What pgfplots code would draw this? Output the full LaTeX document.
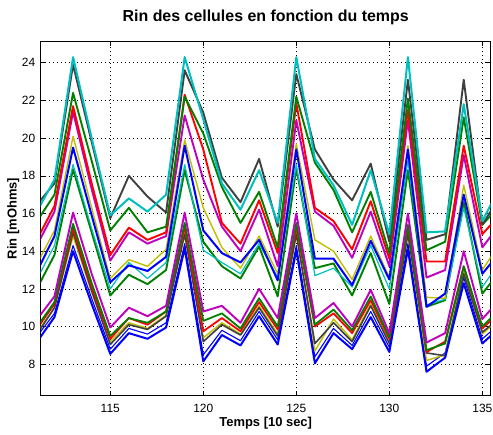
\documentclass[border=0pt]{standalone}
\usepackage{fontspec}
\setmainfont{Liberation Sans}
\usepackage{pgfplots}
\usepackage{pgfplotstable}
\pgfplotsset{compat=1.18}

\definecolor{mblue}{rgb}{0,0,1}
\definecolor{mgreen}{rgb}{0,0.5,0}
\definecolor{mred}{rgb}{1,0,0}
\definecolor{mcyan}{rgb}{0,0.75,0.75}
\definecolor{mmag}{rgb}{0.75,0,0.75}
\definecolor{myel}{rgb}{0.75,0.75,0}
\definecolor{mgray}{rgb}{0.25,0.25,0.25}

% Internal resistance of each cell (mOhm) versus time step (10 s)
% u* : upper group of cells, l* : lower group of cells
\pgfplotstableread{
t    u1    u2    u3    u4    u5    u6    u7    u8    u9    l1    l2    l3    l4    l5    l6    l7
111  16.0  16.4  15.5  14.5  14.2  13.2  12.8  12.4  11.9  10.3  9.9   9.8   9.5   9.6   9.1   9.4
112  17.8  17.6  17.0  16.4  16.1  15.1  14.8  14.3  13.8  11.6  11.3  11.2  11.0  11.0  10.5  10.7
113  24.3  23.9  22.4  21.7  21.4  20.1  19.5  18.6  18.35 16.05 15.45 15.2  15.0  14.8  14.0  14.3
114  20.0  19.8  18.8  17.6  17.3  16.3  15.9  15.2  15.0  12.8  12.3  12.1  11.9  11.8  11.2  11.5
115  15.9  15.75 15.1  13.8  13.5  12.55 12.35 12.0  11.65 9.95  9.5   9.35  9.05  9.2   8.55  8.8
116  16.8  18.0  16.3  15.25 15.0  13.55 13.25 13.4  12.75 11.0  10.45 10.45 10.1  10.2  9.65  9.9
117  16.1  16.9  15.0  14.6  14.4  13.2  12.95 12.55 12.25 10.55 10.2  10.1  9.85  9.9   9.35  9.6
118  17.0  16.05 15.3  15.0  14.8  14.1  13.7  13.4  13.0  11.1  10.8  10.8  10.55 10.6  9.95  10.2
119  24.3  23.6  22.2  22.3  21.2  19.9  19.6  18.6  18.3  16.05 15.5  15.3  14.9  15.0  14.15 14.4
120  21.0  21.35 20.25 19.4  17.8  16.3  15.1  14.05 14.5  10.8  10.3  9.75  9.2   9.4   8.15  8.5
121  17.6  17.9  17.4  15.5  15.3  14.2  13.9  13.4  13.2  11.1  10.7  10.45 10.1  10.2  9.55  9.8
122  16.2  16.6  15.5  14.4  14.0  13.1  13.4  12.8  12.55 10.2  9.9   9.75  9.55  9.6   9.0   9.25
123  18.3  18.9  17.15 16.7  16.2  14.8  14.6  14.4  14.25 12.0  11.5  11.3  11.0  11.1  10.55 10.8
124  15.5  15.3  14.2  13.9  13.2  12.8  12.45 12.6  11.6  10.45 10.0  9.85  9.5   9.6   9.05  9.3
125  24.3  23.4  22.2  21.85 20.95 19.7  19.4  18.6  18.4  16.0  15.5  15.3  14.9  15.0  14.05 14.3
126  18.9  19.4  18.7  16.3  16.1  14.6  13.6  12.7  13.1  10.45 10.1  10.0  9.1   8.7   8.05  8.4
127  17.5  17.8  17.25 15.6  15.35 14.0  13.6  13.1  13.35 11.25 10.9  10.7  10.2  10.4  9.65  9.9
128  15.4  16.7  15.0  14.1  13.65 12.5  12.2  12.1  11.65 10.0  9.8   9.65  9.2   9.3   8.8   9.0
129  18.3  18.65 17.15 16.65 16.1  14.8  14.55 14.3  13.9  11.95 11.6  11.4  11.1  11.2  10.5  10.8
130  14.9  14.5  13.9  13.6  13.2  12.6  12.5  12.0  11.2  9.65  9.45  9.35  9.1   9.2   8.65  8.9
131  24.3  23.1  22.1  21.5  20.95 19.6  19.4  18.8  18.3  16.0  15.4  15.3  14.9  15.0  14.1  14.4
132  15.0  14.6  14.05 13.45 12.6  11.55 11.05 11.15 11.05 9.15  8.75  8.65  8.6   8.2   7.6   7.9
133  15.05 14.9  14.5  13.45 13.0  11.5  11.75 11.45 11.4  9.65  9.1   9.2   8.45  8.5   8.35  8.6
134  21.8  23.1  21.1  19.6  19.1  17.5  17.0  16.3  16.6  14.0  13.2  13.2  12.8  12.9  12.3  12.6
135  15.6  15.4  15.4  14.9  14.2  13.0  12.8  12.1  11.75 10.4  10.0  9.9   9.7   9.6   9.1   9.35
136  17.5  17.0  16.5  16.0  15.5  14.5  14.0  13.5  13.0  11.5  11.0  10.8  10.5  10.5  10.0  10.2
}\rin

\begin{document}
\begin{tikzpicture}
\begin{axis}[
  scale only axis,
  width=450bp, height=354.4bp,
  xmin=111.26, xmax=135.45,
  ymin=6.33, ymax=25.14,
  xtick={115,120,125,130,135},
  ytick={8,10,...,24},
  /pgf/number format/assume math mode=true,
  tick label style={font=\fontsize{12}{14}\selectfont},
  xticklabel style={anchor=base, yshift=-16.3bp},
  yticklabel style={anchor=east, xshift=-2bp},
  major tick length=5bp,
  tick style={black, line width=0.6bp},
  axis line style={black, line width=1bp},
  grid=major,
  major grid style={black, line width=0.6bp, dash pattern=on 1bp off 3bp},
  title={Rin des cellules en fonction du temps},
  title style={font=\bfseries\fontsize{16}{19}\selectfont,
    at={(axis description cs:0.5,1.039)}, anchor=base},
  xlabel={Temps [10 sec]},
  xlabel style={font=\bfseries\fontsize{13}{15}\selectfont,
    at={(axis description cs:0.5,-0.0855)}, anchor=base},
  ylabel={Rin [mOhms]},
  ylabel style={font=\bfseries\fontsize{13}{15}\selectfont,
    at={(axis description cs:-0.0533,0.5)}, anchor=base},
  every axis plot/.append style={line join=round, no markers},
]
% lower group
\addplot[mblue, line width=1.1bp] table[x=t, y=l7] {\rin};
\addplot[myel, line width=1.4bp] table[x=t, y=l5] {\rin};
\addplot[mgray, line width=1.6bp] table[x=t, y=l4] {\rin};
\addplot[mred, line width=1.8bp] table[x=t, y=l3] {\rin};
\addplot[mgreen, line width=1.8bp] table[x=t, y=l2] {\rin};
\addplot[mmag, line width=1.9bp] table[x=t, y=l1] {\rin};
\addplot[mblue, line width=2bp] table[x=t, y=l6] {\rin};
% upper group
\addplot[mgreen, line width=1.9bp] table[x=t, y=u9] {\rin};
\addplot[mcyan, line width=1.2bp] table[x=t, y=u8] {\rin};
\addplot[myel, line width=1.4bp] table[x=t, y=u6] {\rin};
\addplot[mblue, line width=2bp] table[x=t, y=u7] {\rin};
\addplot[mmag, line width=1.9bp] table[x=t, y=u5] {\rin};
\addplot[mred, line width=1.9bp] table[x=t, y=u4] {\rin};
\addplot[mgreen, line width=1.9bp] table[x=t, y=u3] {\rin};
\addplot[mgray, line width=1.9bp] table[x=t, y=u2] {\rin};
\addplot[mcyan, line width=2bp] table[x=t, y=u1] {\rin};
\end{axis}
\pgfresetboundingbox
\path (-40.7bp,-39.3bp) rectangle (452.3bp,395.7bp);
\end{tikzpicture}
\end{document}
